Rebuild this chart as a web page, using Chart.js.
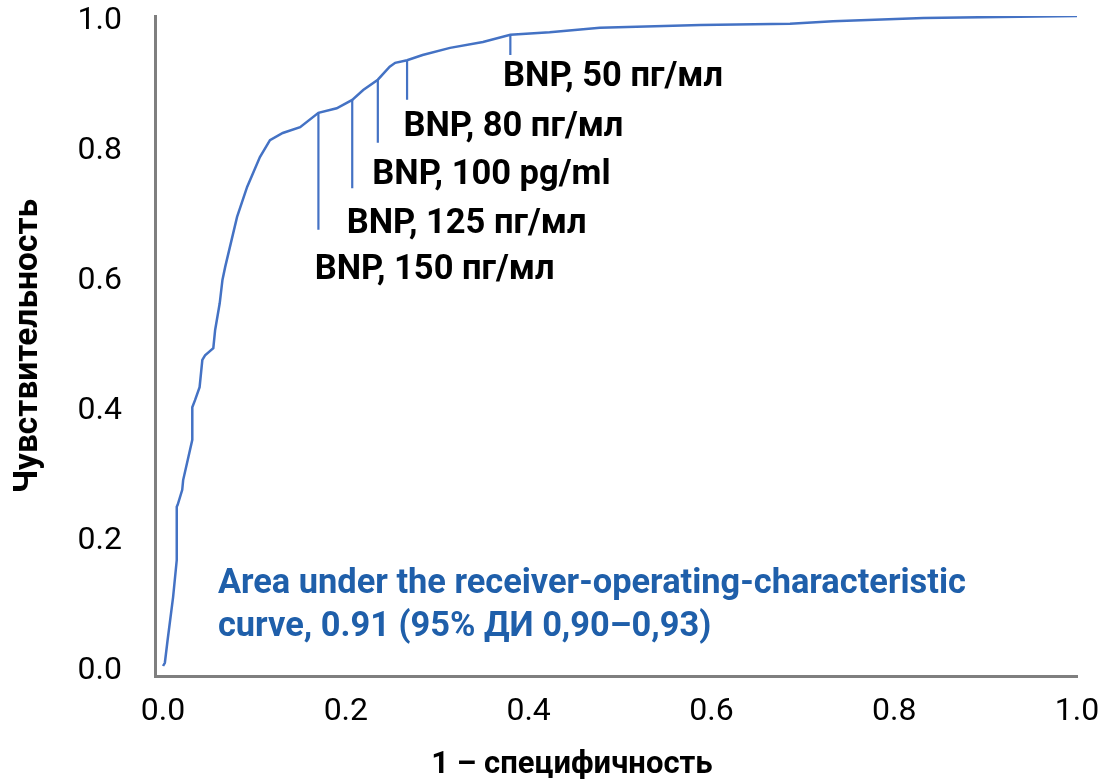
<!DOCTYPE html>
<html>
<head>
<meta charset="utf-8">
<script src="https://cdn.jsdelivr.net/npm/chart.js@4/dist/chart.umd.min.js"></script>
<style>
  html, body { margin: 0; padding: 0; background: #fff; }
</style>
</head>
<body>
<canvas id="rocChart" width="1106" height="781"></canvas>
<script>
// ROC curve: 1 - specificity (x) vs sensitivity (y)
const rocX = [0.000, 0.002, 0.005, 0.011, 0.015, 0.015, 0.016, 0.021, 0.022, 0.027, 0.032, 0.032, 0.035,
  0.040, 0.043, 0.046, 0.055, 0.057, 0.062, 0.065, 0.068, 0.081, 0.092, 0.106, 0.117, 0.131, 0.150,
  0.170, 0.190, 0.207, 0.219, 0.235, 0.248, 0.254, 0.267, 0.284, 0.314, 0.350, 0.380, 0.423, 0.478,
  0.588, 0.686, 0.733, 0.832, 1.000];
const rocY = [0.000, 0.005, 0.040, 0.106, 0.163, 0.245, 0.248, 0.271, 0.286, 0.317, 0.348, 0.398, 0.409,
  0.429, 0.471, 0.478, 0.489, 0.517, 0.558, 0.594, 0.614, 0.691, 0.737, 0.783, 0.809, 0.820, 0.829,
  0.851, 0.858, 0.871, 0.886, 0.902, 0.922, 0.928, 0.932, 0.940, 0.951, 0.960, 0.971, 0.975, 0.982,
  0.986, 0.988, 0.992, 0.997, 1.000];

// BNP cut-off markers
const cutoffLabels = ["BNP, 150 пг/мл", "BNP, 125 пг/мл", "BNP, 100 pg/ml", "BNP, 80 пг/мл", "BNP, 50 пг/мл"];
const cutoffX = [0.170, 0.207, 0.235, 0.267, 0.380];
const cutoffTop = [0.851, 0.871, 0.902, 0.932, 0.971];
const cutoffBottom = [0.671, 0.735, 0.805, 0.871, 0.940];

const tickValues = [0, 0.2, 0.4, 0.6, 0.8, 1.0];
const aucLines = ["Area under the receiver-operating-characteristic", "curve, 0.91 (95% ДИ 0,90–0,93)"];
const xTitle = "1 – специфичность";
const yTitle = "Чувствительность";

const lineColor = "#4472C4";
const FONT = "Roboto";

const datasets = [{
  data: rocX.map((x, i) => ({ x: x, y: rocY[i] })),
  borderColor: lineColor,
  borderWidth: 2.5,
  pointRadius: 0,
  showLine: true,
  tension: 0
}];
cutoffX.forEach((x, i) => {
  datasets.push({
    data: [{ x: x, y: cutoffTop[i] }, { x: x, y: cutoffBottom[i] }],
    borderColor: lineColor,
    borderWidth: 2.2,
    pointRadius: 0,
    showLine: true
  });
});

// text annotations (label anchors in axis units)
const textPlugin = {
  id: "rocText",
  afterDatasetsDraw(chart) {
    const ctx = chart.ctx;
    const sx = chart.scales.x, sy = chart.scales.y;
    const anchors = [[0.166, 0.609], [0.201, 0.680], [0.229, 0.755], [0.263, 0.828], [0.372, 0.906]];
    ctx.save();
    ctx.textAlign = "left";
    ctx.textBaseline = "middle";
    ctx.fillStyle = "#000";
    ctx.font = "bold 34.5px " + FONT;
    cutoffLabels.forEach((t, i) => {
      ctx.fillText(t, sx.getPixelForValue(anchors[i][0]), sy.getPixelForValue(anchors[i][1]));
    });
    ctx.fillStyle = "#1F5FAA";
    ctx.font = "bold 34.4px " + FONT;
    ctx.fillText(aucLines[0], sx.getPixelForValue(0.060), sy.getPixelForValue(0.126));
    ctx.fillText(aucLines[1], sx.getPixelForValue(0.060), sy.getPixelForValue(0.060));
    // x axis title
    ctx.fillStyle = "#000";
    ctx.textAlign = "center";
    ctx.font = "bold 31px " + FONT;
    ctx.fillText(xTitle, 572, 765);
    ctx.restore();
  }
};

new Chart(document.getElementById("rocChart"), {
  type: "scatter",
  data: { datasets: datasets },
  options: {
    responsive: false,
    animation: false,
    layout: { padding: { top: 16, right: 29, left: 0, bottom: 0 } },
    plugins: { legend: { display: false }, tooltip: { enabled: false } },
    scales: {
      x: {
        type: "linear",
        min: -0.0088,
        max: 1.0,
        afterBuildTicks: s => { s.ticks = tickValues.map(v => ({ value: v })); },
        afterFit: s => { s.height = 105; s.paddingLeft = 0; s.paddingRight = 0; },
        grid: { display: false, drawTicks: false },
        border: { display: true, color: "#7f7f7f", width: 3 },
        ticks: {
          callback: v => v.toFixed(1),
          font: { family: FONT, size: 32, lineHeight: 1 },
          color: "#000",
          padding: 20,
          maxRotation: 0,
          autoSkip: false
        }
      },
      y: {
        type: "linear",
        min: -0.0154,
        max: 1.0,
        afterBuildTicks: s => { s.ticks = tickValues.map(v => ({ value: v })); },
        afterFit: s => { s.width = 155; s.paddingTop = 0; s.paddingBottom = 0; },
        grid: { display: false, drawTicks: false },
        border: { display: true, color: "#7f7f7f", width: 3 },
        ticks: {
          callback: v => v.toFixed(1),
          font: { family: FONT, size: 32, lineHeight: 1 },
          color: "#000",
          padding: 33,
          labelOffset: 5,
          autoSkip: false
        },
        title: {
          display: true,
          text: yTitle,
          color: "#000",
          font: { family: FONT, size: 33.5, weight: "bold" },
          padding: { top: 9, bottom: 0 }
        }
      }
    }
  },
  plugins: [textPlugin]
});
</script>
</body>
</html>
